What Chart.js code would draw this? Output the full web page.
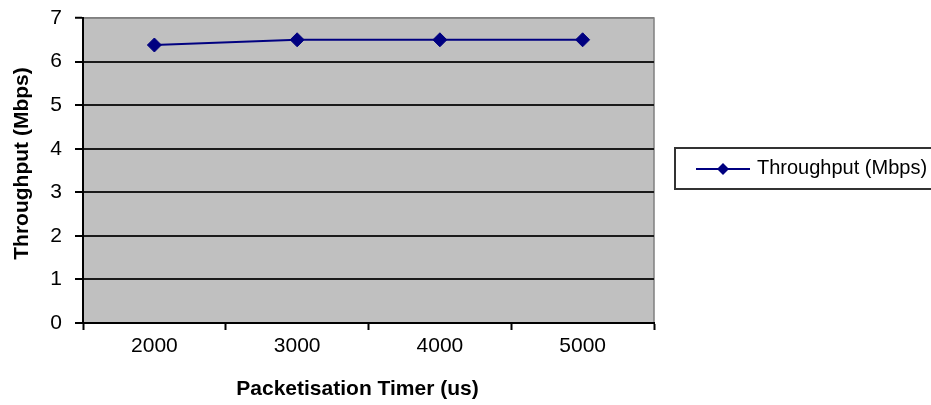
<!DOCTYPE html>
<html>
<head>
<meta charset="utf-8">
<script src="https://cdn.jsdelivr.net/npm/chart.js@4/dist/chart.umd.min.js"></script>
<style>
  html, body { margin: 0; padding: 0; background: #ffffff; }
  #wrap { width: 931px; height: 405px; }
</style>
</head>
<body>
<div id="wrap"><canvas id="c" width="931" height="405"></canvas></div>
<script>
// Packetisation timer settings (us) and measured throughput
const timers = ['2000', '3000', '4000', '5000'];
const throughput = [6.38, 6.5, 6.5, 6.5];
const yTicks = [0, 1, 2, 3, 4, 5, 6, 7];

const seriesLabel = 'Throughput (Mbps)';
const xTitle = 'Packetisation Timer (us)';
const yTitle = 'Throughput (Mbps)';

const FONT = "'Liberation Sans', Arial, sans-serif";
const NAVY = '#000080';

// Grey plot background with a thin grey frame on top/right
const plotBackground = {
  id: 'plotBackground',
  beforeDraw(chart) {
    const { ctx, chartArea: a } = chart;
    ctx.save();
    ctx.fillStyle = '#c0c0c0';
    ctx.fillRect(a.left, a.top, a.right - a.left, a.bottom - a.top);
    ctx.strokeStyle = '#808080';
    ctx.lineWidth = 1.5;
    ctx.beginPath();
    ctx.moveTo(a.left, a.top);
    ctx.lineTo(a.right, a.top);
    ctx.lineTo(a.right, a.bottom);
    ctx.stroke();
    ctx.restore();
  }
};

// Axis titles, placed relative to the plot area
const axisTitles = {
  id: 'axisTitles',
  afterDraw(chart) {
    const { ctx, chartArea: a } = chart;
    ctx.save();
    ctx.fillStyle = '#000000';
    ctx.font = 'bold 21px ' + FONT;
    ctx.textAlign = 'center';
    ctx.textBaseline = 'middle';
    ctx.fillText(xTitle, (a.left + a.right) / 2 - 11, 389);
    ctx.translate(22, (a.top + a.bottom) / 2 - 7);
    ctx.rotate(-Math.PI / 2);
    ctx.fillText(yTitle, 0, 0);
    ctx.restore();
  }
};

// Boxed legend at the right: line sample with a diamond marker
const boxedLegend = {
  id: 'boxedLegend',
  afterDraw(chart) {
    const { ctx } = chart;
    const ds = chart.data.datasets[0];
    ctx.save();
    ctx.strokeStyle = '#333333';
    ctx.lineWidth = 2;
    ctx.strokeRect(675, 148, 280, 41);
    ctx.strokeStyle = ds.borderColor;
    ctx.lineWidth = 2;
    ctx.beginPath();
    ctx.moveTo(696, 169);
    ctx.lineTo(750, 169);
    ctx.stroke();
    ctx.fillStyle = ds.pointBackgroundColor;
    ctx.beginPath();
    ctx.moveTo(723, 163);
    ctx.lineTo(729, 169);
    ctx.lineTo(723, 175);
    ctx.lineTo(717, 169);
    ctx.closePath();
    ctx.fill();
    ctx.fillStyle = '#000000';
    ctx.font = '20px ' + FONT;
    ctx.textAlign = 'left';
    ctx.textBaseline = 'middle';
    ctx.fillText(ds.label, 757, 168);
    ctx.restore();
  }
};

new Chart(document.getElementById('c'), {
  type: 'line',
  data: {
    labels: timers,
    datasets: [{
      label: seriesLabel,
      data: throughput,
      borderColor: NAVY,
      backgroundColor: NAVY,
      borderWidth: 2,
      pointStyle: 'rectRot',
      pointRadius: 7,
      pointBorderWidth: 1,
      pointBackgroundColor: NAVY,
      pointBorderColor: NAVY,
      tension: 0,
      fill: false
    }]
  },
  options: {
    responsive: false,
    animation: false,
    devicePixelRatio: 1,
    layout: { padding: { left: 0, right: 277, top: 18, bottom: 0 } },
    plugins: {
      legend: { display: false },
      tooltip: { enabled: false }
    },
    scales: {
      x: {
        type: 'category',
        offset: true,
        afterFit(s) { s.height = 82; s.paddingLeft = 0; s.paddingRight = 0; },
        grid: {
          offset: true,
          drawOnChartArea: false,
          drawTicks: true,
          tickLength: 7,
          tickColor: '#000000',
          tickWidth: 2
        },
        border: { display: true, color: '#000000', width: 2 },
        ticks: {
          color: '#000000',
          padding: 4,
          font: { family: FONT, size: 21 },
          maxRotation: 0
        },
        title: { display: false }
      },
      y: {
        min: 0,
        max: 7,
        afterFit(s) { s.width = 83; s.paddingTop = 0; s.paddingBottom = 0; },
        afterBuildTicks(s) { s.ticks = yTicks.map(v => ({ value: v })); },
        grid: {
          color: ctx => (ctx.tick && ctx.tick.value === 7 ? '#808080' : '#1a1a1a'),
          lineWidth: ctx => (ctx.tick && ctx.tick.value === 7 ? 1.5 : 2),
          tickColor: '#000000',
          tickLength: 8,
          tickWidth: 2
        },
        border: { display: true, color: '#000000', width: 2 },
        ticks: {
          color: '#000000',
          padding: 13,
          font: { family: FONT, size: 21 },
          stepSize: 1
        },
        title: { display: false }
      }
    }
  },
  plugins: [plotBackground, axisTitles, boxedLegend]
});
</script>
</body>
</html>
